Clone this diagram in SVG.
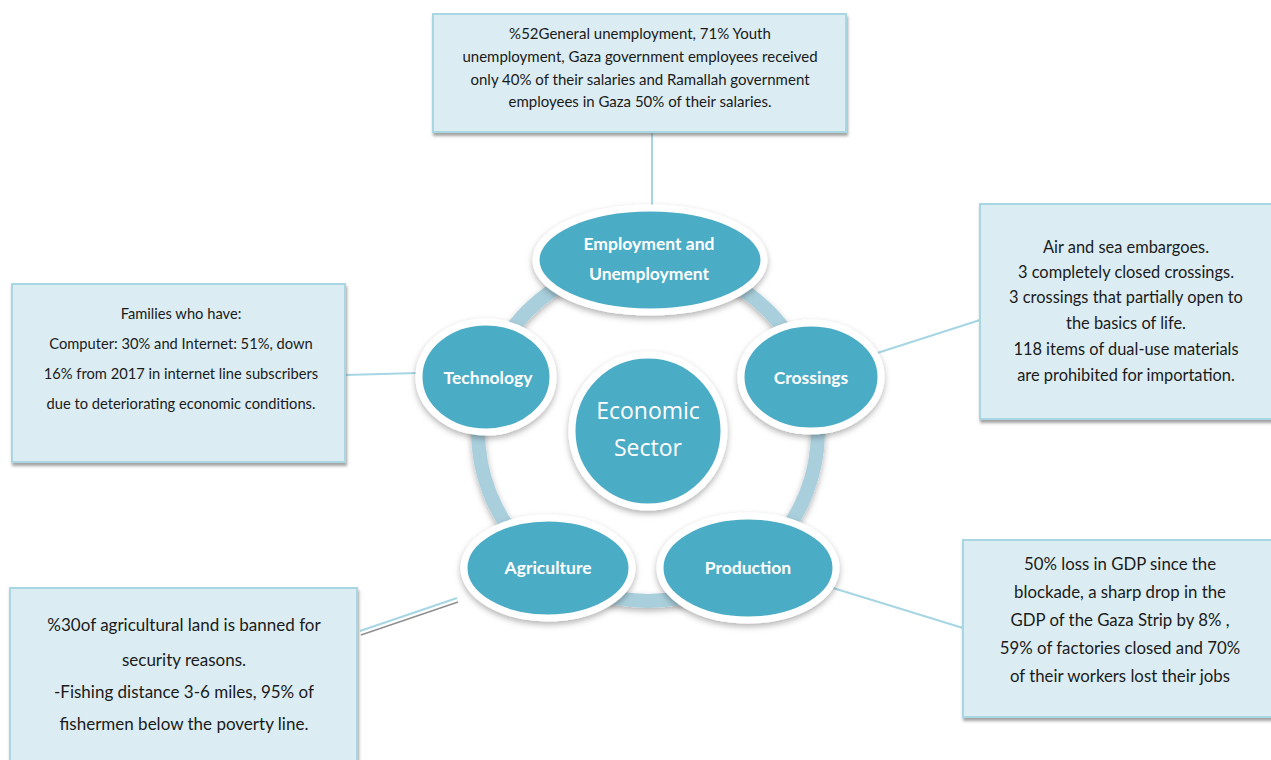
<svg xmlns="http://www.w3.org/2000/svg" width="1271" height="760" viewBox="0 0 1271 760">
<defs>
<filter id="sh" x="-20%" y="-20%" width="140%" height="150%">
<feDropShadow dx="0" dy="3" stdDeviation="3" flood-color="#000" flood-opacity="0.3"/>
</filter>
<filter id="bsh" x="-5%" y="-5%" width="110%" height="115%">
<feDropShadow dx="1" dy="3" stdDeviation="1.5" flood-color="#555" flood-opacity="0.55"/>
</filter>
<style>
.box{fill:#dbedf3;stroke:#a9d6e3;stroke-width:2;filter:url(#bsh)}
.node{fill:#4bacc6;stroke:#fff;stroke-width:7;filter:url(#sh)}
.bt{font-family:"Liberation Sans Narrow","Lato",sans-serif;fill:#1a1a1a;text-anchor:middle}
.nt{font-family:"Lato","Liberation Sans",sans-serif;font-weight:bold;fill:#fff;font-size:17.5px;text-anchor:middle}
.ct{font-family:"Open Sans","Liberation Sans",sans-serif;fill:#fff;font-size:23px;text-anchor:middle}
.con{stroke:#a6d6e4;stroke-width:2;fill:none}
</style>
</defs>
<rect width="1271" height="760" fill="#fff"/>
<g id="ring">
<circle cx="648" cy="431" r="170" fill="none" stroke="#a9cfdc" stroke-width="14" filter="url(#sh)"/>
</g>
<g id="connectors">
<line class="con" x1="652" y1="133" x2="652" y2="208"/>
<line class="con" x1="345" y1="375" x2="418" y2="373"/>
<line class="con" x1="871" y1="355" x2="980" y2="320"/>
<line class="con" x1="360" y1="631" x2="457" y2="598"/>
<line x1="361" y1="635" x2="458" y2="602" stroke="#8f8f8f" stroke-width="1.5"/>
<line class="con" x1="833" y1="588" x2="963" y2="628"/>
</g>
<g id="box-employment">
<rect class="box" x="433" y="14" width="413" height="118"/>
<text class="bt" font-size="15"><tspan x="640" y="39">%52General unemployment, 71% Youth</tspan><tspan x="640" y="62">unemployment, Gaza government employees received</tspan><tspan x="640" y="85">only 40% of their salaries and Ramallah government</tspan><tspan x="640" y="107">employees in Gaza 50% of their salaries.</tspan></text>
</g>
<g id="box-technology">
<rect class="box" x="12" y="284" width="333" height="178"/>
<text class="bt" font-size="14.7"><tspan x="181" y="319">Families who have:</tspan><tspan x="181" y="349">Computer: 30% and Internet: 51%, down</tspan><tspan x="181" y="379">16% from 2017 in internet line subscribers</tspan><tspan x="181" y="409">due to deteriorating economic conditions.</tspan></text>
</g>
<g id="box-crossings">
<rect class="box" x="980" y="204" width="300" height="215"/>
<text class="bt" font-size="16.4"><tspan x="1126" y="253">Air and sea embargoes.</tspan><tspan x="1126" y="278">3 completely closed crossings.</tspan><tspan x="1126" y="303">3 crossings that partially open to</tspan><tspan x="1126" y="329">the basics of life.</tspan><tspan x="1126" y="355">118 items of dual-use materials</tspan><tspan x="1126" y="381">are prohibited for importation.</tspan></text>
</g>
<g id="box-agriculture">
<rect class="box" x="10" y="588" width="347" height="185"/>
<text class="bt" font-size="17"><tspan x="184" y="631">%30of agricultural land is banned for</tspan><tspan x="184" y="666">security reasons.</tspan><tspan x="184" y="698">-Fishing distance 3-6 miles, 95% of</tspan><tspan x="184" y="730">fishermen below the poverty line.</tspan></text>
</g>
<g id="box-production">
<rect class="box" x="963" y="540" width="320" height="177"/>
<text class="bt" font-size="16.8"><tspan x="1120" y="570">50% loss in GDP since the</tspan><tspan x="1120" y="598">blockade, a sharp drop in the</tspan><tspan x="1120" y="626">GDP of the Gaza Strip by 8% ,</tspan><tspan x="1120" y="654">59% of factories closed and 70%</tspan><tspan x="1120" y="682">of their workers lost their jobs</tspan></text>
</g>
<g id="node-center">
<circle class="node" cx="648" cy="431" r="76"/>
<text class="ct"><tspan x="648" y="419">Economic</tspan><tspan x="648" y="456">Sector</tspan></text>
</g>
<g id="node-employment">
<ellipse class="node" cx="650" cy="260" rx="114" ry="52"/>
<text class="nt"><tspan x="649" y="250">Employment and</tspan><tspan x="649" y="280">Unemployment</tspan></text>
</g>
<g id="node-technology">
<ellipse class="node" cx="486" cy="377" rx="67" ry="55"/>
<text class="nt" x="488" y="384">Technology</text>
</g>
<g id="node-crossings">
<ellipse class="node" cx="811" cy="377" rx="70" ry="54"/>
<text class="nt" x="811" y="384">Crossings</text>
</g>
<g id="node-agriculture">
<ellipse class="node" cx="548" cy="568" rx="84" ry="50"/>
<text class="nt" x="548" y="574">Agriculture</text>
</g>
<g id="node-production">
<ellipse class="node" cx="748" cy="568" rx="88" ry="52"/>
<text class="nt" x="748" y="574">Production</text>
</g>
</svg>
